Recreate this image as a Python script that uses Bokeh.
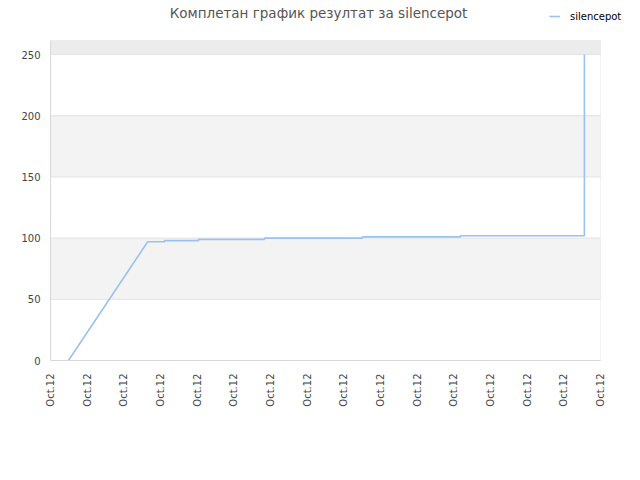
from math import pi
from bokeh.plotting import figure
from bokeh.models import (Range1d, FixedTicker, Legend, LegendItem, BoxAnnotation, Label)
from bokeh.embed import file_html
from bokeh.resources import INLINE

# ---- data (x in tick-interval units, 0..15) ----
tick_positions = list(range(16))
tick_labels = ["Oct.12"] * 16
score_x = [0.49, 2.65, 3.11, 3.11, 4.04, 4.04, 5.84, 5.84, 8.51, 8.51, 11.18, 11.18, 14.56, 14.56]
score_y = [0, 97, 97, 98, 98, 99, 99, 100, 100, 101, 101, 102, 102, 250]
series_name = "silencepot"
title_text = "Комплетан график резултат за silencepot"
y_ticks = [0, 50, 100, 150, 200, 250]
x_axis_end = tick_positions[-1]
y_axis_top = 261.5

# the frame fills the canvas top and right so that title and legend (drawn in it) are not clipped
p = figure(width=640, height=480, output_backend="svg", toolbar_location=None,
           title_location=None,
           x_range=Range1d(0, 16.09), y_range=Range1d(0, 294.2),
           min_border_left=50, min_border_right=0, min_border_top=0, min_border_bottom=120)

p.background_fill_color = "white"
p.border_fill_color = "white"
p.outline_line_color = None
p.xgrid.visible = False
p.ygrid.visible = False

# alternating bands between y ticks, and the band above the last tick
for i in range(1, len(y_ticks) - 1, 2):
    p.add_layout(BoxAnnotation(left=0, right=x_axis_end, bottom=y_ticks[i], top=y_ticks[i + 1],
                               fill_color="#f3f3f3", fill_alpha=1, line_alpha=0, level="image"))
p.add_layout(BoxAnnotation(left=0, right=x_axis_end, bottom=y_ticks[-1], top=y_axis_top,
                           fill_color="#ececec", fill_alpha=1, line_alpha=0, level="image"))

# horizontal grid lines at the y ticks
p.segment(x0=[0] * len(y_ticks), x1=[x_axis_end] * len(y_ticks), y0=y_ticks, y1=y_ticks,
          line_color="#e2e2e2", line_width=1, level="underlay")

outline = BoxAnnotation(left=0, right=x_axis_end, bottom=0, top=y_axis_top, fill_alpha=0,
                        line_color="#d8d8d8", line_width=1, level="underlay")
p.add_layout(outline)

p.xaxis.ticker = FixedTicker(ticks=tick_positions)
p.xaxis.major_label_overrides = {t: l for t, l in zip(tick_positions, tick_labels)}
p.xaxis.major_label_orientation = pi / 2
p.xaxis.bounds = (0, x_axis_end)
p.yaxis.ticker = FixedTicker(ticks=y_ticks)
p.yaxis.bounds = (0, y_axis_top)

for ax in (p.xaxis[0], p.yaxis[0]):
    ax.axis_line_color = "#d8d8d8"
    ax.major_tick_line_color = None
    ax.minor_tick_line_color = None
    ax.major_tick_out = 0
    ax.major_tick_in = 0
    ax.minor_tick_out = 0
    ax.major_label_text_font = "DejaVu Sans"
    ax.major_label_text_font_size = "10px"
    ax.major_label_text_color = "#444444"
p.xaxis.major_label_standoff = 13
p.yaxis.major_label_standoff = 10

r = p.line(score_x, score_y, line_color="#99c2ee", line_width=1.6)

title = Label(x=268, y=348, x_units="screen", y_units="screen", text=title_text,
              text_align="center", text_baseline="middle", text_font="DejaVu Sans",
              text_font_size="13.5px", text_color="#555555")
p.add_layout(title)

legend = Legend(items=[LegendItem(label=series_name, renderers=[r])],
                location=(499, 338), padding=0, margin=0, spacing=0,
                glyph_width=11, glyph_height=12, label_height=12,
                label_standoff=10, label_text_font="DejaVu Sans",
                label_text_font_size="10px", label_text_color="#000000",
                border_line_color=None, background_fill_alpha=0)
p.add_layout(legend)

open("out.html", "w").write(file_html(p, INLINE))
